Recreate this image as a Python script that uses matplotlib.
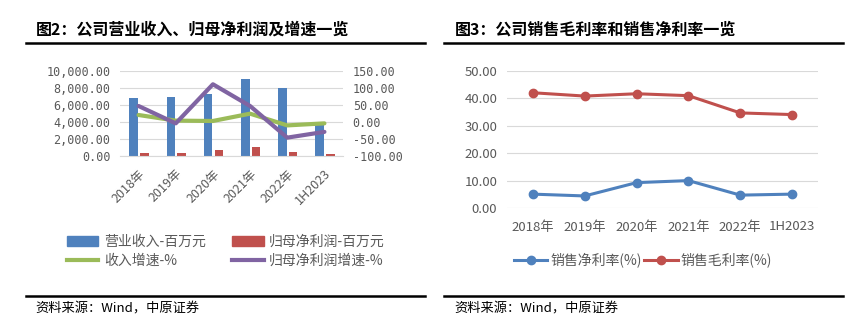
import matplotlib
matplotlib.use('Agg')
import matplotlib.pyplot as plt
import numpy as np
from matplotlib.lines import Line2D
from matplotlib.patches import Patch

plt.rcParams['font.family'] = ['Noto Sans CJK SC', 'DejaVu Sans']

# data
years = ['2018年', '2019年', '2020年', '2021年', '2022年', '1H2023']
revenue = [6820, 6940, 7290, 9060, 8000, 3880]        # 营业收入-百万元
net_profit = [390, 390, 700, 1100, 510, 270]           # 归母净利润-百万元
rev_growth = [20.6, 4, 3, 24.5, -10, -4]               # 收入增速-%
np_growth = [47, -4, 111, 47, -46, -29]                # 归母净利润增速-%
net_margin = [5.06, 4.4, 9.26, 10.0, 4.7, 5.06]       # 销售净利率(%)
gross_margin = [42.06, 40.85, 41.7, 41.0, 34.7, 34.1]  # 销售毛利率(%)

W, H = 859, 329
fig = plt.figure(figsize=(W / 100, H / 100), dpi=100)
fig.patch.set_facecolor('white')

def box(x0, y0, x1, y1):
    return [x0 / W, 1 - y1 / H, (x1 - x0) / W, (y1 - y0) / H]

gray = '#595959'
grid = '#d9d9d9'
blue = '#4f81bd'
red = '#c0504d'
green = '#9bbb59'
purple = '#8064a2'
mono = ['DejaVu Sans Mono', 'Noto Sans CJK SC']

# ---- panel frames, titles, sources
for x0, x1, tx, title in [(26, 425, 36, '图2：公司营业收入、归母净利润及增速一览'),
                          (444, 843, 455, '图3：公司销售毛利率和销售净利率一览')]:
    fig.text(tx / W, 1 - 30 / H, title, fontsize=11.5, fontweight='bold', va='center', ha='left')
    fig.add_artist(Line2D([x0 / W, x1 / W], [1 - 43 / H] * 2, color='black', lw=1.8))
    fig.add_artist(Line2D([x0 / W, x1 / W], [1 - 296 / H] * 2, color='black', lw=1.8))
    fig.text((tx - 1) / W, 1 - 309 / H, '资料来源：Wind，中原证券', fontsize=9.5, va='center', ha='left')

# ---- left chart
x = np.arange(len(years))
ax = fig.add_axes(box(120, 71, 343, 156))
ax.bar(x - 0.13, revenue, width=0.23, color=blue, zorder=2)
ax.bar(x + 0.16, net_profit, width=0.23, color=red, zorder=2)
ax.set_ylim(0, 10000)
ax.set_xlim(-0.5, 5.5)
ax.set_yticks(np.arange(0, 10001, 2000))
ax.set_yticklabels([f'{v:,.2f}' for v in np.arange(0, 10001, 2000)], family=mono, fontsize=8.5)
ax.yaxis.grid(True, color=grid, lw=0.8, zorder=0)
ax.set_axisbelow(True)
ax.set_xticks(x)
ax.set_xticklabels(years, rotation=45, ha='right', rotation_mode='anchor', fontsize=9)
ax.tick_params(axis='both', length=0, colors=gray)
ax.tick_params(axis='x', pad=8)
ax.tick_params(axis='y', pad=7)
for s in ax.spines.values():
    s.set_visible(False)
ax.spines['bottom'].set_visible(True)
ax.spines['bottom'].set_color(grid)

ax2 = ax.twinx()
ax2.plot(x, rev_growth, color=green, lw=3, solid_capstyle='round', zorder=3)
ax2.plot(x, np_growth, color=purple, lw=3, solid_capstyle='round', zorder=3)
ax2.set_ylim(-100, 150)
ax2.set_yticks(np.arange(-100, 151, 50))
ax2.set_yticklabels([f'{v:.2f}' for v in np.arange(-100, 151, 50)], family=mono, fontsize=8.5)
ax2.tick_params(axis='y', length=0, colors=gray, pad=7)
for s in ax2.spines.values():
    s.set_visible(False)

handles = [Patch(color=blue), Line2D([], [], color=green, lw=3),
           Patch(color=red), Line2D([], [], color=purple, lw=3)]
labels = ['营业收入-百万元', '收入增速-%', '归母净利润-百万元', '归母净利润增速-%']
fig.legend(handles, labels, ncol=2, loc='upper left', bbox_to_anchor=(54 / W, 1 - 222 / H),
           frameon=False, fontsize=10, labelcolor=gray, handlelength=2.3, handleheight=0.7,
           columnspacing=1.85, labelspacing=0.35, handletextpad=0.4)

# ---- right chart
bx = fig.add_axes(box(507, 71, 818, 208))
bx.plot(x, net_margin, color=blue, lw=2.2, marker='o', ms=6, label='销售净利率(%)')
bx.plot(x, gross_margin, color=red, lw=2.2, marker='o', ms=6, label='销售毛利率(%)')
bx.set_ylim(0, 50)
bx.set_xlim(-0.5, 5.5)
bx.set_yticks(np.arange(0, 51, 10))
bx.set_yticklabels([f'{v:.2f}' for v in np.arange(0, 51, 10)])
bx.yaxis.grid(True, color=grid, lw=0.8)
bx.set_axisbelow(True)
bx.set_xticks(x)
bx.set_xticklabels(years)
bx.tick_params(axis='both', length=0, colors=gray, labelsize=9.5)
bx.tick_params(axis='x', pad=9)
bx.tick_params(axis='y', pad=7)
for s in bx.spines.values():
    s.set_visible(False)
bx.legend(ncol=2, loc='center', bbox_to_anchor=(643 / W, 1 - 260 / H),
          bbox_transform=fig.transFigure, frameon=False, fontsize=10, labelcolor=gray,
          handlelength=2.4, columnspacing=0.2, handletextpad=0.2)

fig.savefig('out.png', dpi=100)
